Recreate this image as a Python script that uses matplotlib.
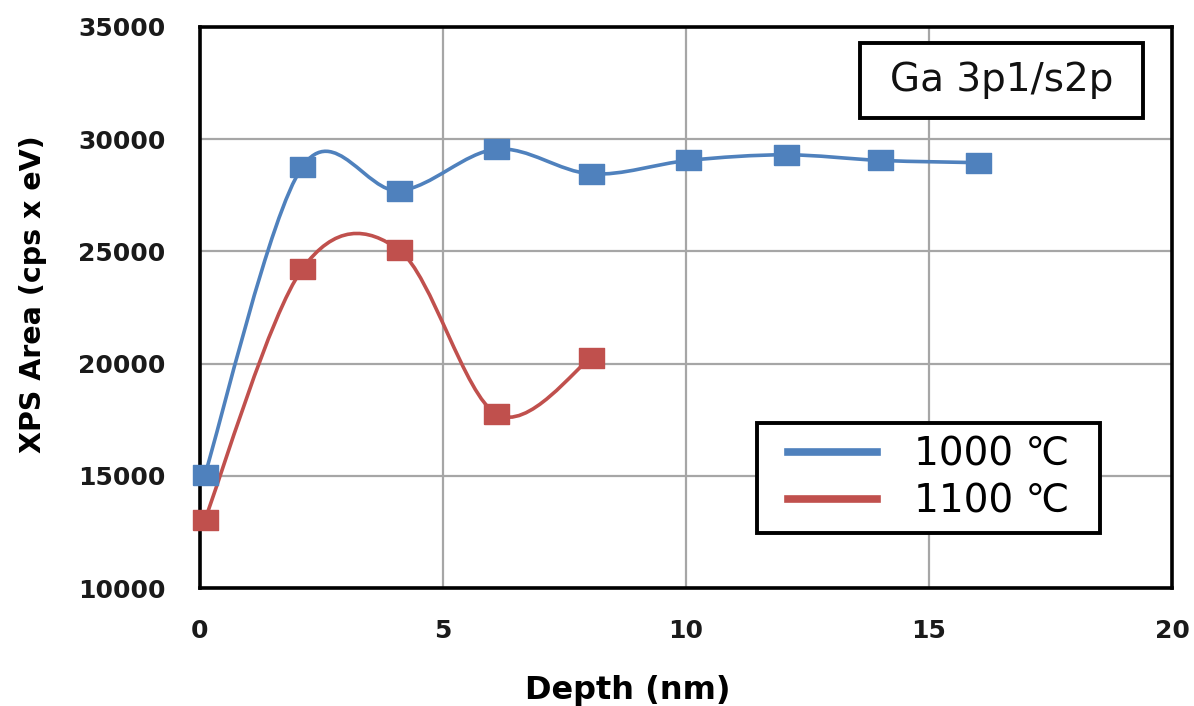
import matplotlib
matplotlib.use("Agg")
import matplotlib.pyplot as plt
from matplotlib.path import Path
from matplotlib.patches import PathPatch, Rectangle
from matplotlib.lines import Line2D
import numpy as np

# Ga 3p1/s2p XPS area vs sputter depth
depth_1000 = [0.1, 2.1, 4.1, 6.1, 8.05, 10.05, 12.05, 14.0, 16.0]
area_1000 = [15050, 28750, 27700, 29550, 28450, 29050, 29300, 29050, 28950]

depth_1100 = [0.1, 2.1, 4.1, 6.1, 8.05]
area_1100 = [13050, 24200, 25050, 17750, 20250]

series_labels = ["1000 \u2103", "1100 \u2103"]
series_colors = ["#4F81BD", "#C0504D"]

x_ticks = [0, 5, 10, 15, 20]
y_ticks = [10000, 15000, 20000, 25000, 30000, 35000]


def smooth_path(xs, ys):
    # Excel-style smoothed line: cubic Bezier segments with Catmull-Rom tangents
    pts = np.column_stack([xs, ys]).astype(float)
    n = len(pts)
    verts = [pts[0]]
    codes = [Path.MOVETO]
    for i in range(n - 1):
        p0 = pts[i - 1] if i > 0 else pts[i]
        p1 = pts[i]
        p2 = pts[i + 1]
        p3 = pts[i + 2] if i + 2 < n else pts[i + 1]
        c1 = p1 + (p2 - p0) / 6.0
        c2 = p2 - (p3 - p1) / 6.0
        verts += [c1, c2, p2]
        codes += [Path.CURVE4] * 3
    return Path(verts, codes)


rect_marker = [(-1.25, -1), (1.25, -1), (1.25, 1), (-1.25, 1), (-1.25, -1)]

fig = plt.figure(figsize=(11.94, 7.06), dpi=100)
ax = fig.add_axes([0.1675, 0.167, 0.8141, 0.795])

for xs, ys, color in [(depth_1000, area_1000, series_colors[0]),
                      (depth_1100, area_1100, series_colors[1])]:
    ax.add_patch(PathPatch(smooth_path(xs, ys), facecolor="none",
                           edgecolor=color, lw=2.6, zorder=3,
                           clip_on=False))
    ax.plot(xs, ys, linestyle="none", marker=rect_marker, markersize=18,
            color=color, zorder=4, clip_on=False)

ax.set_xlim(0, 20)
ax.set_ylim(10000, 35000)
ax.set_xticks(x_ticks)
ax.set_yticks(y_ticks)
ax.grid(True, color="#a6a6a6", lw=1.6)
ax.set_axisbelow(True)
ax.tick_params(length=0)
ax.tick_params(axis="x", pad=22)
ax.tick_params(axis="y", pad=25)

for s in ax.spines.values():
    s.set_linewidth(2.6)
    s.set_color("black")

for lbl in ax.get_yticklabels():
    lbl.set_fontweight("bold")
    lbl.set_fontsize(18)
    lbl.set_color("#1a1a1a")
for lbl in ax.get_xticklabels():
    lbl.set_fontweight("bold")
    lbl.set_fontsize(18)
    lbl.set_color("#1a1a1a")

ax.set_xlabel("Depth (nm)", fontsize=23, fontweight="bold")
ax.xaxis.label.set_va("center")
ax.xaxis.set_label_coords(0.44, -0.182)
ax.set_ylabel("XPS Area (cps x eV)", fontsize=20.5, fontweight="bold")
ax.yaxis.label.set_va("center")
ax.yaxis.set_label_coords(-0.172, 0.524)

# element label box
ax.add_patch(Rectangle((0.679, 0.838), 0.291, 0.1335, transform=ax.transAxes,
                       facecolor="white", edgecolor="black", lw=2.8,
                       zorder=5))
ax.text(0.8245, 0.905, "Ga 3p1/s2p", transform=ax.transAxes, ha="center",
        va="center", fontsize=28, color="#111111", zorder=6)

# legend box drawn separately so its padding can be set per side
ax.add_patch(Rectangle((0.573, 0.098), 0.353, 0.196, transform=ax.transAxes,
                       facecolor="white", edgecolor="black", lw=2.8,
                       zorder=5))
handles = [Line2D([], [], color=c, lw=5.5) for c in series_colors]
leg = ax.legend(handles, series_labels, loc="center",
                bbox_to_anchor=(0.7495, 0.196), borderaxespad=0,
                frameon=False, handlelength=2.3, handletextpad=0.95,
                borderpad=0, labelspacing=0.22,
                prop={"family": ["DejaVu Sans", "Noto Sans CJK SC"],
                      "size": 28})
leg.set_zorder(6)

fig.savefig("out.png", dpi=100, facecolor="white")
